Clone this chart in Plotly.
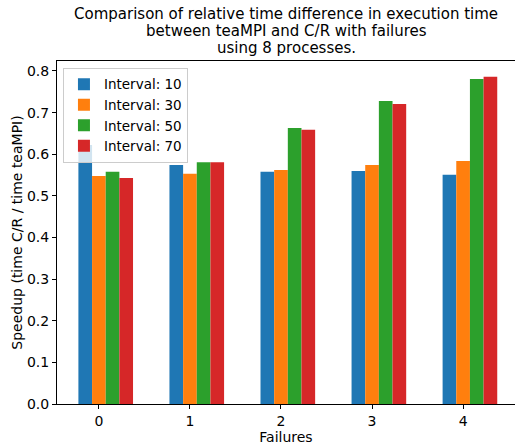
import plotly.graph_objects as go

failures = [0, 1, 2, 3, 4]
tick_labels = ["0", "1", "2", "3", "4"]
series_names = ["Interval: 10", "Interval: 30", "Interval: 50", "Interval: 70"]
interval_10 = [0.622, 0.574, 0.558, 0.560, 0.551]
interval_30 = [0.548, 0.553, 0.562, 0.574, 0.584]
interval_50 = [0.558, 0.581, 0.663, 0.728, 0.781]
interval_70 = [0.543, 0.581, 0.659, 0.721, 0.786]
title_lines = [
    "Comparison of relative time difference in execution time",
    "between teaMPI and C/R with failures",
    "using 8 processes.",
]

colors = ["#1f77b4", "#ff7f0e", "#2ca02c", "#d62728"]
bar_width = 0.15
font = "DejaVu Sans"
plot_top, plot_h = 61, 343.5

fig = go.Figure()
for i, (name, vals) in enumerate(zip(series_names,
                                     [interval_10, interval_30, interval_50, interval_70])):
    fig.add_trace(go.Bar(
        x=failures, y=vals, name=name,
        width=bar_width, offset=-0.225 + i * bar_width,
        marker=dict(color=colors[i], line=dict(width=0)),
    ))

# heading lines, placed individually for tight line spacing
for k, line in enumerate(title_lines):
    yc = 13.5 + k * 17
    fig.add_annotation(
        text=line, xref="paper", yref="paper",
        x=0.5, y=1 + (plot_top - yc) / plot_h,
        xanchor="center", yanchor="middle", showarrow=False,
        font=dict(family=font, size=15, color="black"),
    )

fig.update_layout(
    width=515, height=448,
    margin=dict(l=57, r=0, t=plot_top, b=44),
    barmode="overlay",
    plot_bgcolor="white", paper_bgcolor="white",
    font=dict(family=font, size=14, color="black"),
    xaxis=dict(
        range=[-0.46, 4.57], tickvals=failures, ticktext=tick_labels,
        showgrid=False, zeroline=False,
        showline=True, linecolor="black", linewidth=1, mirror=True,
        ticks="outside", ticklen=4, tickcolor="black",
        tickfont=dict(size=14),
        title=dict(text="Failures", standoff=4, font=dict(size=14)),
    ),
    yaxis=dict(
        range=[0, 0.824], tickvals=[0, 0.1, 0.2, 0.3, 0.4, 0.5, 0.6, 0.7, 0.8],
        tickformat=".1f",
        showgrid=False, zeroline=False,
        showline=True, linecolor="black", linewidth=1,
        ticks="outside", ticklen=4, tickcolor="black",
        tickfont=dict(size=14),
        title=dict(text="Speedup (time C/R / time teaMPI)", standoff=1, font=dict(size=14)),
    ),
    legend=dict(
        x=0.013, y=0.98, xanchor="left", yanchor="top",
        bgcolor="rgba(255,255,255,0.8)", bordercolor="#cccccc", borderwidth=1,
        font=dict(size=13.5), tracegroupgap=0, traceorder="normal",
    ),
    showlegend=True,
)

fig.write_html("out.html")
